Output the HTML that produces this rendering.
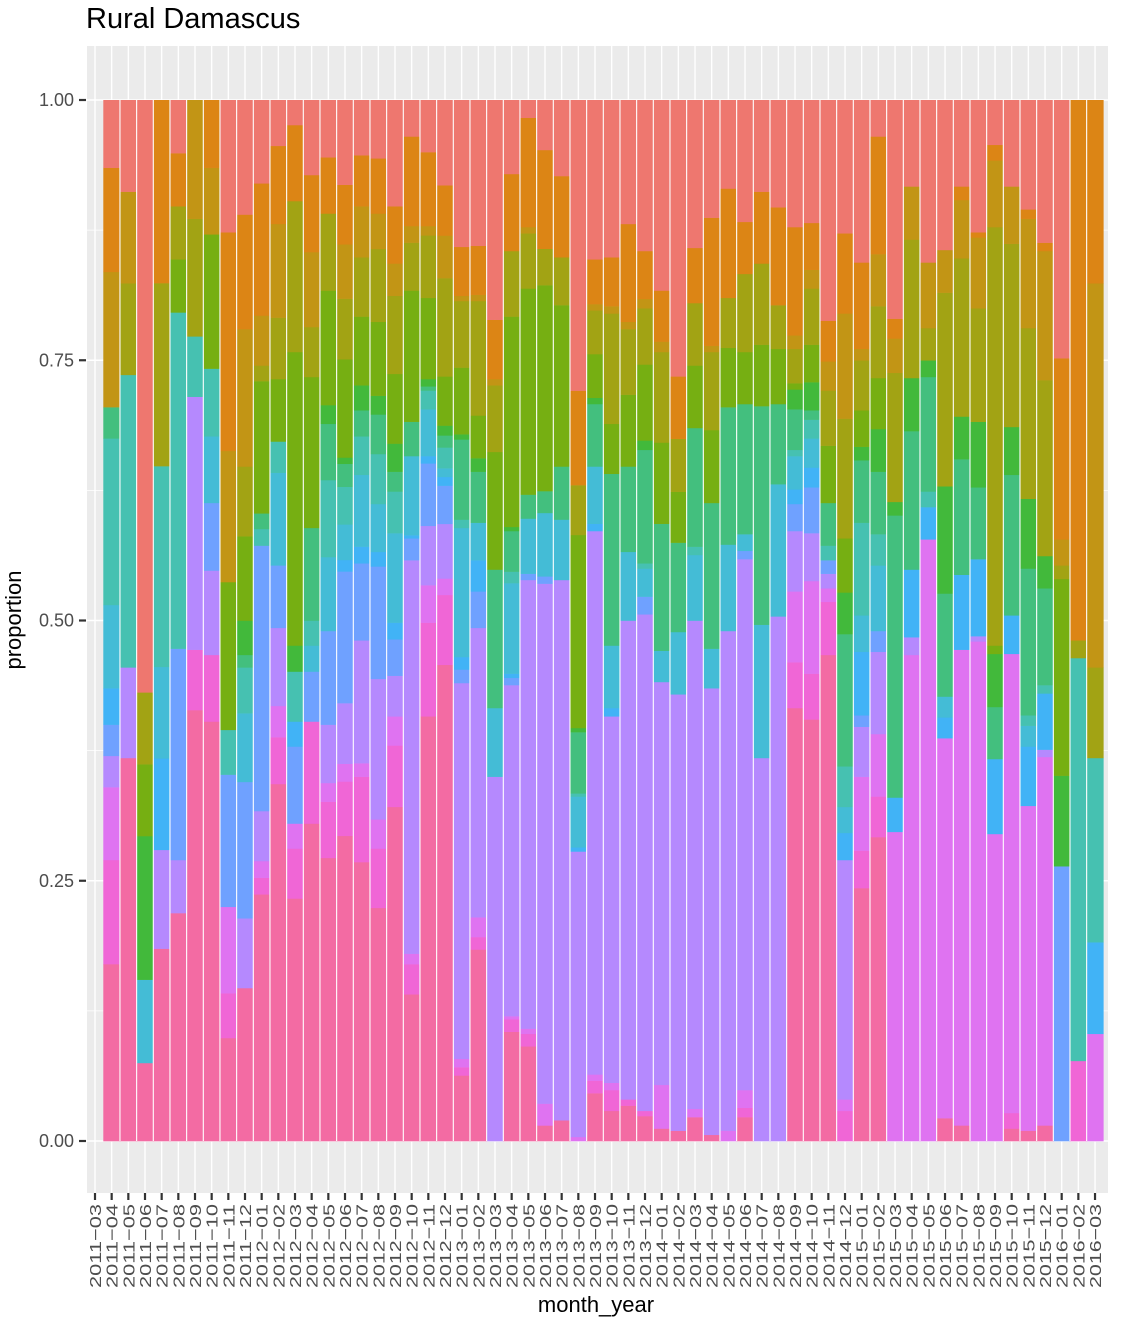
<!DOCTYPE html>
<html><head><meta charset="utf-8"><title>Rural Damascus</title>
<style>
html,body{margin:0;padding:0;background:#fff;}
svg text{font-family:"Liberation Sans",Arial,sans-serif;}
</style></head>
<body>
<svg id="chart" width="1132" height="1326" viewBox="0 0 1132 1326" xmlns="http://www.w3.org/2000/svg">
<text x="86" y="28" font-size="29" fill="#000">Rural Damascus</text>
<rect x="87" y="46" width="1021" height="1147" fill="#EBEBEB"/>
<g id="grid"></g>
<g id="bars"></g>
<g id="yaxis"></g>
<g id="xaxis"></g>
<text transform="translate(21,620) rotate(-90)" text-anchor="middle" font-size="22" fill="#000">proportion</text>
<text x="596" y="1312" text-anchor="middle" font-size="22" fill="#000">month_year</text>
</svg>
<script>
const categoryColors = ["#F36BA3","#F066D6","#DF73F1","#B589FE","#6FA1FF","#41B3F6","#44BCD6","#46C1B1","#43BF7E","#42B93B","#76AF12","#A2A314","#C29515","#DC8515","#EE776F"];
const seriesNames = ["cat01","cat02","cat03","cat04","cat05","cat06","cat07","cat08","cat09","cat10","cat11","cat12","cat13","cat14","cat15"];
const s0 = [.17,.368,.075,.185,.219,.414,.403,.099,.147,.237,.343,.233,.305,.272,.292,.268,.224,.321,.141,.408,.436,.063,.184,0,.105,.091,.015,.02,0,.046,.029,.034,.024,.012,.01,.023,.006,0,.023,0,0,.416,.405,.467,0,.243,.292,0,0,0,.022,.015,0,0,.012,.01,.015,0,0,0];
const s1 = [.10,0,0,0,0,.058,.064,.043,0,.016,.045,.048,.098,.054,.052,.082,.057,.059,.029,.09,.064,.008,.012,0,.012,.012,0,0,0,.012,.02,.006,.005,0,0,0,0,0,.009,0,0,.044,.044,.051,.029,.036,.039,0,0,0,0,0,0,0,.015,0,0,0,.077,0];
const s2 = [.07,0,0,0,0,0,0,.083,0,.016,.03,.024,0,.018,.017,.013,.028,.028,.01,.036,.015,.008,.019,0,.003,.005,.021,0,.004,.006,.007,0,0,.042,0,.008,0,.01,.017,0,0,.068,.089,.013,.011,.071,.06,.297,.467,.578,.365,.457,.48,.295,.441,.312,.354,0,0,.103];
const s3 = [.03,.087,0,.095,.051,.243,.081,0,.067,.048,.075,0,0,.056,.058,.118,.135,.039,.378,.057,.05,.361,.278,.35,.318,.431,.5,.519,.275,.522,.352,.46,.477,.387,.42,.469,.429,.48,.51,.368,.504,.058,.046,.014,.23,.048,.079,0,.017,0,0,0,.005,0,0,0,.007,0,0,0];
const s4 = [.03,0,0,0,.203,0,.065,.127,.131,.255,.06,.074,.048,.09,.126,.074,.108,.035,.021,.06,.035,.013,.035,0,.007,.006,.007,0,0,0,0,0,.017,0,0,0,0,0,.008,0,0,.026,.044,.013,0,.011,.02,0,0,0,0,0,0,0,0,0,0,.264,0,0];
const s5 = [.035,0,0,.088,0,0,0,0,0,0,0,.024,0,0,.011,.016,.014,.016,.003,.007,.008,.012,.03,0,.004,0,0,0,.004,.007,.008,0,0,0,0,0,0,0,0,0,0,.014,.019,0,.026,.061,0,.033,.065,.031,.02,.072,.074,.072,.037,.057,.054,0,0,.088];
const s6 = [.08,0,.08,.088,0,0,.064,0,.066,0,.089,0,.025,.071,.034,.069,.046,.086,.076,.045,.008,.124,.036,.066,.087,.053,.061,.058,.049,.055,.06,.066,.027,.03,.06,.063,.038,.083,.016,.128,.127,.032,.028,0,.025,.035,.063,0,0,0,.02,0,0,0,0,.02,0,0,0,0];
const s7 = [.16,.281,0,.193,.323,.058,.065,.043,.044,.016,.03,.048,.024,.074,.036,.037,.048,.04,0,.018,.019,.008,0,0,.011,0,0,0,.003,0,0,0,.005,0,0,.008,0,0,0,0,0,.006,.018,.014,.039,.089,.03,0,0,.015,0,0,0,0,0,.01,.008,0,.387,.177];
const s8 = [.03,0,0,0,0,0,0,0,.012,.015,0,0,.089,.054,.022,.025,.038,.019,.033,.004,.011,.077,.049,.133,.039,.023,.021,.051,.059,.06,.165,.082,.109,.122,.086,.114,.14,.132,.125,.21,.077,.039,.009,.041,.127,.06,.06,.271,.133,.11,.099,.111,.069,.05,.135,.141,.093,0,0,0];
const s9 = [0,0,.138,0,0,0,0,0,.033,0,0,.025,0,.018,.006,.024,.018,.027,0,.007,.009,.005,.013,0,.004,0,0,0,.004,.006,0,0,.009,0,0,0,0,0,0,0,0,.019,.027,0,.04,.013,.041,.013,.051,.016,.103,.041,.063,.051,.046,.067,.031,.087,0,0];
const s10 = [0,0,.069,0,.051,0,.129,.142,.081,.127,.06,.282,.145,.11,.094,.066,.071,.067,.126,.078,.045,.064,.041,.113,.202,.198,.198,.155,.186,.042,.048,.069,.073,.078,.049,.06,.07,.057,.05,.059,.053,.006,.036,.055,.052,.035,.049,0,0,0,0,0,0,.008,0,0,0,.189,0,0];
const s11 = [0,.088,.069,.176,.051,.113,0,0,.067,.015,.059,.145,.048,.074,.058,.057,.07,.075,.046,.06,.09,.064,.11,.064,.063,.053,.035,.046,.048,.042,.106,.063,.054,.087,.051,.06,.075,.048,.075,.078,.042,.033,.054,.053,.115,.048,.069,.124,.133,.031,.186,.152,.109,.402,.176,.164,.169,.013,.017,.087];
const s12 = [.13,.088,0,0,0,.114,.064,.126,.132,.048,.09,0,.072,0,.052,.049,.034,.031,.016,.009,.039,.005,.006,.006,0,.006,0,0,0,.006,.007,.007,.009,.01,0,0,.006,0,0,0,0,.013,.018,.028,.101,.011,.05,.033,.051,.063,.041,.056,.068,.064,.055,.105,.124,.025,0,.369];
const s13 = [.10,0,0,.176,.051,0,.065,.21,.11,.127,.075,.073,.074,.054,.057,.049,.053,.055,.086,.071,.046,.047,.047,.057,.074,.105,.095,.078,.091,.043,.047,.094,.046,.049,.06,.053,.123,.105,.05,.069,.094,.104,.045,.039,.077,.083,.113,.019,0,0,0,.013,.005,.015,0,.009,.008,.174,.519,.176];
const s14 = [.065,.088,.569,0,.051,0,0,.127,.11,.08,.044,.024,.072,.055,.081,.053,.056,.102,.035,.05,.078,.141,.14,.211,.071,.017,.048,.073,.28,.153,.151,.119,.145,.183,.266,.142,.113,.085,.117,.088,.103,.122,.118,.212,.128,.156,.035,.21,.083,.156,.144,.083,.127,.043,.083,.105,.137,.248,0,0];
const yTickValues = [0, 0.25, 0.5, 0.75, 1];
const yTickLabels = ["0.00","0.25","0.50","0.75","1.00"];

const series = [s0,s1,s2,s3,s4,s5,s6,s7,s8,s9,s10,s11,s12,s13,s14];
const NS = "http://www.w3.org/2000/svg";
const plotTop = 100, plotBottom = 1141;
const barStart = 103.3, barStep = 16.667;
const tickStart = 95;
function yScale(v){ return plotBottom - v*(plotBottom-plotTop); }
function barX(i){ return barStart + i*barStep; }
function tickX(i){ return tickStart + i*barStep; }
function mk(tag, attrs, parent){ const e=document.createElementNS(NS,tag); for(const k in attrs) e.setAttribute(k, attrs[k]); parent.appendChild(e); return e; }

const monthLabels = [];
for(let y=2011;y<=2016;y++){ for(let m=1;m<=12;m++){ if((y===2011&&m<3)||(y===2016&&m>3)) continue; monthLabels.push(y+"\u2212"+(m<10?"0"+m:m)); } }

const grid = document.getElementById("grid");
for(let k=0;k<=8;k++){
  const v=k/8; const y=yScale(v);
  const ln = mk("line",{x1:87,x2:1108,y1:y,y2:y,stroke:"#fff","stroke-width":(k%2===0)?1.4:0.7},grid);
  
  
}
monthLabels.forEach((lab,i)=>{
  const x=tickX(i);
  const ln = mk("line",{x1:x,x2:x,y1:46,y2:1193,stroke:"#fff","stroke-width":1.4},grid);
  
  
});

const bars = document.getElementById("bars");
const nBars = s0.length;
for(let i=0;i<nBars;i++){
  let total=0; series.forEach(s=>{ total+=s[i]; });
  let cum=0;
  series.forEach((s,c)=>{
    const v=s[i]/total; if(v<=0) return;
    const y0=yScale(cum), y1=yScale(cum+v);
    const r = mk("rect",{x:barX(i),y:y1,width:barStep+0.3,height:(y0-y1)+0.3,fill:categoryColors[c]},bars);
    
    
    cum+=v;
  });
}
for(let i=1;i<nBars;i++){
  const x=barX(i);
  const sep = mk("line",{x1:x,x2:x,y1:plotTop,y2:plotBottom,stroke:"#fff","stroke-width":1.1},bars);
  
  
}

const yaxis = document.getElementById("yaxis");
yTickValues.forEach((v,k)=>{
  const y=yScale(v);
  const t = mk("line",{x1:79,x2:86,y1:y,y2:y,stroke:"#333","stroke-width":2.2},yaxis);
  
  
  const tx = mk("text",{x:74,y:y+6,"text-anchor":"end","font-size":18,fill:"#4D4D4D"},yaxis);
  tx.textContent=yTickLabels[k];
  
  
});

const xaxis = document.getElementById("xaxis");
monthLabels.forEach((lab,i)=>{
  const x=tickX(i);
  const t = mk("line",{x1:x,x2:x,y1:1193,y2:1200,stroke:"#333","stroke-width":2.2},xaxis);
  
  
  const tx = mk("text",{transform:"translate("+(x+6)+",1204) rotate(-90)","text-anchor":"end","font-size":16,fill:"#4D4D4D",textLength:84,lengthAdjust:"spacingAndGlyphs"},xaxis);
  tx.textContent=lab;
  
  
});
</script>
</body></html>
